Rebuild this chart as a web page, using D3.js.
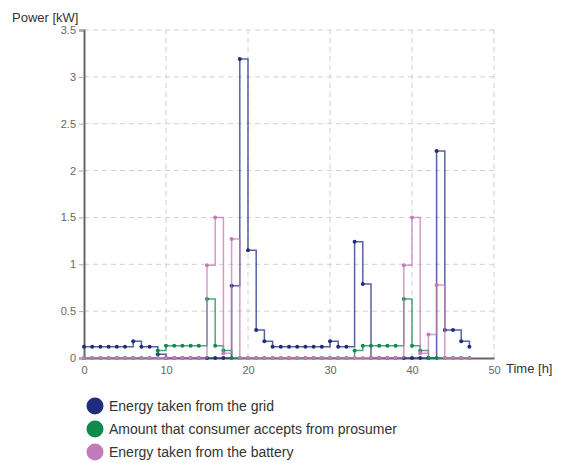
<!DOCTYPE html>
<html>
<head>
<meta charset="utf-8">
<script src="https://cdn.jsdelivr.net/npm/d3@7"></script>
<style>
  body { margin: 0; background: #fff; font-family: "Liberation Sans", Arial, sans-serif; }
</style>
</head>
<body>
<svg></svg>
<script>
let width = 563;
let height = 463;

// hours 0..47
let hours = d3.range(0, 48);

let gridValues = [0.12, 0.12, 0.12, 0.12, 0.12, 0.12, 0.18, 0.12, 0.12, 0.04,
  0, 0, 0, 0, 0, 0, 0, 0, 0.77, 3.19,
  1.15, 0.30, 0.18, 0.12, 0.12, 0.12, 0.12, 0.12, 0.12, 0.12,
  0.18, 0.12, 0.12, 1.24, 0.79, 0, 0, 0, 0, 0,
  0, 0, 0, 2.21, 0.30, 0.30, 0.18, 0.12];

let consumerValues = [0, 0, 0, 0, 0, 0, 0, 0, 0, 0.08,
  0.13, 0.13, 0.13, 0.13, 0.13, 0.63, 0.13, 0.08, 0, 0,
  0, 0, 0, 0, 0, 0, 0, 0, 0, 0,
  0, 0, 0, 0.08, 0.13, 0.13, 0.13, 0.13, 0.13, 0.63,
  0.13, 0.08, 0, 0, 0, 0, 0, 0];

let batteryValues = [0, 0, 0, 0, 0, 0, 0, 0, 0, 0,
  0, 0, 0, 0, 0, 0.99, 1.5, 0.05, 1.27, 0,
  0, 0, 0, 0, 0, 0, 0, 0, 0, 0,
  0, 0, 0, 0, 0, 0, 0, 0, 0, 0.99,
  1.5, 0.05, 0.25, 0.78, 0, 0, 0, 0];

let seriesNames = ['Energy taken from the grid', 'Amount that consumer accepts from prosumer', 'Energy taken from the battery'];
let seriesColors = ['#1f2d7c', '#0e8a4f', '#c47ab8'];
let xTicks = [0, 10, 20, 30, 40, 50];
let yTicks = [0, 0.5, 1, 1.5, 2, 2.5, 3, 3.5];

let svg = d3.select('svg')
  .attr('width', width)
  .attr('height', height)

let xScale = d3.scaleLinear().domain([0, 50]).range([84, 494]);
let yScale = d3.scaleLinear().domain([0, 3.5]).range([358, 30]);

// grid
svg.append('g')
  .selectAll('line')
  .data(yTicks.filter(d => d > 0))
  .enter()
  .append('line')
  .attr('x1', xScale(0))
  .attr('x2', xScale(50))
  .attr('y1', d => yScale(d))
  .attr('y2', d => yScale(d))
  .attr('stroke', '#d0d0d0')
  .attr('stroke-dasharray', '5,4')

svg.append('g')
  .selectAll('line')
  .data(xTicks.filter(d => d > 0))
  .enter()
  .append('line')
  .attr('x1', d => xScale(d))
  .attr('x2', d => xScale(d))
  .attr('y1', yScale(0))
  .attr('y2', yScale(3.5))
  .attr('stroke', '#d0d0d0')
  .attr('stroke-dasharray', '5,4')

// axes
let xAxis = d3.axisBottom(xScale).tickValues(xTicks).tickSize(0).tickPadding(8);
let yAxis = d3.axisLeft(yScale).tickValues(yTicks).tickSize(5).tickPadding(3).tickFormat(d3.format('~g'));

let gx = svg.append('g')
  .attr('transform', `translate(0, ${yScale(0)})`)
  .call(xAxis)
let gy = svg.append('g')
  .attr('transform', `translate(${xScale(0)}, 0)`)
  .call(yAxis)

;[gx, gy].forEach(g => {
  g.select('.domain').attr('stroke', '#666').attr('stroke-width', 2)
  g.selectAll('.tick line').attr('stroke', '#aaa')
  g.selectAll('.tick text')
    .attr('fill', '#666')
    .style('font-family', '"Liberation Sans", Arial, sans-serif')
    .style('font-size', '11px')
})

svg.append('text')
  .attr('x', 12)
  .attr('y', 22)
  .attr('fill', '#333')
  .style('font-size', '13px')
  .text('Power [kW]')

svg.append('text')
  .attr('x', 506)
  .attr('y', 373)
  .attr('fill', '#333')
  .style('font-size', '13px')
  .text('Time [h]')

// series
let allSeries = [gridValues, consumerValues, batteryValues];

let line = d3.line()
  .x((d, i) => xScale(hours[i]))
  .y(d => yScale(d))
  .curve(d3.curveStepAfter)

allSeries.forEach((values, k) => {
  svg.append('path')
    .datum(values)
    .attr('d', line)
    .attr('fill', 'none')
    .attr('stroke', seriesColors[k])
    .attr('stroke-width', 1.5)
    .attr('stroke-opacity', 0.75)

  svg.append('g')
    .selectAll('circle')
    .data(values)
    .enter()
    .append('circle')
    .attr('cx', (d, i) => xScale(hours[i]))
    .attr('cy', d => yScale(d))
    .attr('r', 2)
    .attr('fill', seriesColors[k])
})

// legend
let legend = svg.append('g')
  .selectAll('g')
  .data(seriesNames)
  .enter()
  .append('g')
  .attr('transform', (d, i) => `translate(95, ${406 + i * 23})`)

legend.append('circle')
  .attr('r', 8.5)
  .attr('fill', (d, i) => seriesColors[i])

legend.append('text')
  .attr('x', 14)
  .attr('y', 5)
  .attr('fill', '#333')
  .style('font-size', '14px')
  .text(d => d)
</script>
</body>
</html>
